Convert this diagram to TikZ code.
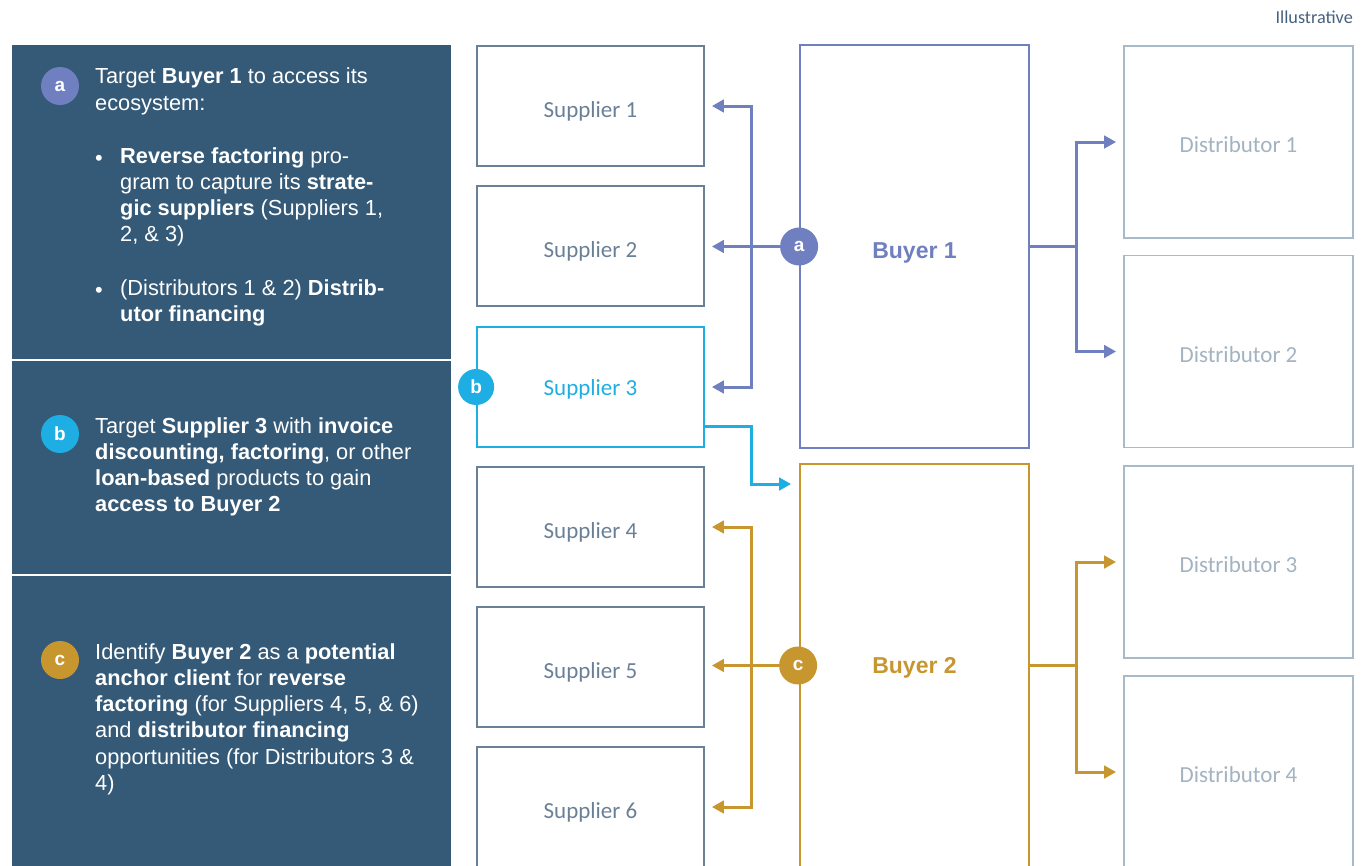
\documentclass[tikz,border=0pt]{standalone}
\usepackage{fontspec}
\setmainfont{Liberation Sans}
\newfontfamily\carlito{Carlito}
\usetikzlibrary{arrows.meta,calc}
\definecolor{panel}{HTML}{345A78}
\definecolor{ca}{HTML}{6F7FBF}
\definecolor{cb}{HTML}{1EAEE4}
\definecolor{cc}{HTML}{C8962F}
\definecolor{supp}{HTML}{6A8096}
\definecolor{dist}{HTML}{A8BAC8}
\definecolor{disttext}{HTML}{A3B3C1}
\definecolor{illus}{HTML}{46617C}
\begin{document}
\begin{tikzpicture}[x=1pt,y=-1pt,
  supbox/.style={draw=supp, text=supp, line width=1.8pt, minimum width=227pt, minimum height=120pt, inner sep=0pt, text height=23pt, text depth=0pt, font=\carlito\fontsize{23}{27}\selectfont},
  buybox/.style={draw, line width=1.8pt, minimum width=229pt, minimum height=403pt, inner sep=0pt, text depth=0pt, font=\bfseries\fontsize{23}{27}\selectfont},
  distbox/.style={draw=dist, text=disttext, line width=1.8pt, minimum width=229pt, minimum height=192pt, inner sep=0pt, text height=21pt, text depth=0pt, font=\carlito\fontsize{23}{27}\selectfont},
  conn/.style={line width=3pt, -{Triangle[length=12pt,width=12.5pt]}, shorten >=7pt},
  link/.style={line width=3pt},
  circ/.style={circle, minimum size=38pt, inner sep=0pt, text=white, font=\bfseries\fontsize{19}{20}\selectfont},
  txt/.style={anchor=north west, align=left, inner sep=0pt, text=white, font=\fontsize{21.8}{26.3}\selectfont},
  bul/.style={inner sep=0pt, text=white, font=\fontsize{21.8}{26.3}\selectfont}
]
\useasboundingbox (0,0) rectangle (1368,865);
\clip (0,0) rectangle (1368,865);
% left panel
\fill[panel] (12,45) rectangle (451,359);
\fill[panel] (12,361) rectangle (451,574);
\fill[panel] (12,576) rectangle (451,870);

\node[anchor=east, text=illus, inner sep=0pt, font=\carlito\fontsize{18.2}{20}\selectfont] (ill) at (1353,17) {Illustrative};

% suppliers
\node[supbox] (S1) at (590.5,106) {Supplier 1};
\node[supbox] (S2) at (590.5,246) {Supplier 2};
\node[supbox, draw=cb, text=cb, text height=16pt] (S3) at (590.5,387) {Supplier 3};
\node[supbox] (S4) at (590.5,527) {Supplier 4};
\node[supbox] (S5) at (590.5,667) {Supplier 5};
\node[supbox] (S6) at (590.5,807) {Supplier 6};
% buyers
\node[buybox, draw=ca, text=ca, text height=23.6pt] (B1) at (914.5,246.5) {Buyer 1};
\node[buybox, draw=cc, text=cc, text height=15.6pt] (B2) at (914.5,665.5) {Buyer 2};
% distributors
\node[distbox] (D1) at (1238.5,142) {Distributor 1};
\node[distbox] (D2) at (1238.5,351.5) {Distributor 2};
\node[distbox] (D3) at (1238.5,562) {Distributor 3};
\node[distbox] (D4) at (1238.5,772) {Distributor 4};

% Buyer 1 connectors
\coordinate (ja) at (751,246.5);
\coordinate (jd) at (1076,246.5);
\draw[conn, ca] (B1.west) -- (B1.west -| S2.east);
\draw[conn, ca] (ja) |- (S1.east);
\draw[conn, ca] (ja) |- (S3.east);
\draw[link, ca] (B1.east) -- (jd);
\draw[conn, ca] (jd) |- (D1.west);
\draw[conn, ca] (jd) |- (D2.west);
% Buyer 2 connectors
\coordinate (jc) at (751,665.5);
\coordinate (je) at (1076,665.5);
\draw[conn, cc] (B2.west) -- (B2.west -| S5.east);
\draw[conn, cc] (jc) |- (S4.east);
\draw[conn, cc] (jc) |- (S6.east);
\draw[link, cc] (B2.east) -- (je);
\draw[conn, cc] (je) |- (D3.west);
\draw[conn, cc] (je) |- (D4.west);
% Supplier 3 to Buyer 2
\coordinate (sb) at (751,484);
\draw[conn, cb, shorten >=8pt] ($(S3.south east)+(0,-21)$) -| (sb) -- (sb -| B2.west);

% circles on diagram
\node[circ, fill=ca] (na) at (B1.west) {a};
\node[circ, fill=cb, minimum size=36pt] (nb) at (S3.west) {b};
\node[circ, fill=cc] (nc) at ($(B2.west)+(-1,0)$) {c};

% left circles
\node[circ, fill=ca] (la) at (60,86) {a};
\node[circ, fill=cb] (lb) at (60,434) {b};
\node[circ, fill=cc] (lc) at (60,660) {c};

% left texts
\node[txt] (ta) at (95,68) {Target \textbf{Buyer 1} to access its\\ecosystem:};
\node[bul] (bu1) at (99,160) {•};
\node[txt] (ta1) at (120,147) {\textbf{Reverse factoring} pro-\\gram to capture its \textbf{strate-}\\\textbf{gic suppliers} (Suppliers 1,\\2, \& 3)};
\node[bul] (bu2) at (99,292) {•};
\node[txt] (ta2) at (120,279) {(Distributors 1 \& 2) \textbf{Distrib-}\\\textbf{utor financing}};
\node[txt] (tb) at (95,417) {Target \textbf{Supplier 3} with \textbf{invoice}\\\textbf{discounting, factoring}, or other\\\textbf{loan-based} products to gain\\\textbf{access to Buyer 2}};
\node[txt] (tc) at (95,643) {Identify \textbf{Buyer 2} as a \textbf{potential}\\\textbf{anchor client} for \textbf{reverse}\\\textbf{factoring} (for Suppliers 4, 5, \& 6)\\and \textbf{distributor financing}\\opportunities (for Distributors 3 \&\\4)};
\end{tikzpicture}
\end{document}
